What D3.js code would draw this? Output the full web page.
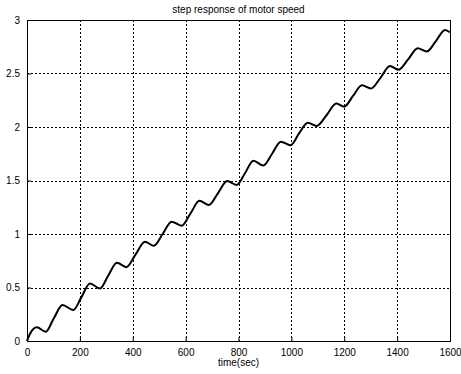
<!DOCTYPE html>
<html>
<head>
<meta charset="utf-8">
<script src="https://cdn.jsdelivr.net/npm/d3@7"></script>
<style>
  body { margin: 0; background: #fff; }
  text { font-family: "Liberation Sans", Arial, sans-serif; font-size: 10px; fill: #000; }
</style>
</head>
<body>
<svg width="461" height="374"></svg>
<script>
const svg = d3.select('svg');
const margin = {top: 20, bottom: 33, left: 27, right: 11};
const width  = +svg.attr('width');
const height = +svg.attr('height');

// Values
const times  = [0, 12, 37, 71, 101, 134, 175, 206, 238, 276, 307, 340, 376, 411, 446, 480,
  513, 547, 585, 618, 652, 688, 722, 757, 793, 825, 856, 894, 927, 960, 997, 1029, 1062,
  1096, 1133, 1170, 1200, 1233, 1267, 1301, 1337, 1373, 1405, 1441, 1478, 1512, 1546, 1581, 1600];
const speeds = [0, 0.07, 0.128, 0.087, 0.21, 0.336, 0.29, 0.41, 0.537, 0.49, 0.61, 0.732, 0.69,
  0.81, 0.928, 0.89, 1.0, 1.115, 1.078, 1.19, 1.31, 1.271, 1.38, 1.495, 1.458, 1.57, 1.685,
  1.64, 1.75, 1.863, 1.83, 1.94, 2.04, 2.01, 2.11, 2.22, 2.19, 2.29, 2.39, 2.36, 2.46, 2.57,
  2.535, 2.63, 2.735, 2.705, 2.8, 2.907, 2.885];
const xTicks = [0, 200, 400, 600, 800, 1000, 1200, 1400, 1600];
const yTicks = [0, 0.5, 1, 1.5, 2, 2.5, 3];

const innerWidth  = width - margin.left - margin.right;
const innerHeight = height - margin.top - margin.bottom;

const chart = svg.append('g')
  .attr('transform', `translate(${margin.left},${margin.top})`);

const xScale = d3.scaleLinear().domain([0, 1600]).range([0, innerWidth]);
const yScale = d3.scaleLinear().domain([0, 3]).range([innerHeight, 0]);

// grid
chart.append('g').selectAll('line').data(xTicks.slice(1, -1))
  .enter().append('line')
    .attr('x1', d => Math.round(xScale(d)) + 0.5).attr('x2', d => Math.round(xScale(d)) + 0.5)
    .attr('y1', 0).attr('y2', innerHeight)
    .attr('stroke', '#000').attr('stroke-dasharray', '2,2');
chart.append('g').selectAll('line').data(yTicks.slice(1, -1))
  .enter().append('line')
    .attr('y1', d => Math.round(yScale(d)) + 0.5).attr('y2', d => Math.round(yScale(d)) + 0.5)
    .attr('x1', 0).attr('x2', innerWidth)
    .attr('stroke', '#000').attr('stroke-dasharray', '2,2');

// axes (MATLAB style, inward ticks)
const xAxis = d3.axisBottom(xScale).tickValues(xTicks).tickSize(-4).tickPadding(8)
  .tickFormat(d3.format('d'));
const yAxis = d3.axisLeft(yScale).tickValues(yTicks).tickSize(-4).tickPadding(7)
  .tickFormat(d3.format('~g'));

const xAxisG = chart.append('g').attr('transform', `translate(0,${innerHeight})`).call(xAxis);
const yAxisG = chart.append('g').call(yAxis);
[xAxisG, yAxisG].forEach(g => {
  g.select('.domain').remove();
  g.selectAll('text').style('font-family', '"Liberation Sans", Arial, sans-serif').style('font-size', '10px');
});

// box
chart.append('rect')
  .attr('x', 0.5).attr('y', 0.5)
  .attr('width', innerWidth).attr('height', innerHeight)
  .attr('fill', 'none').attr('stroke', '#000');

// curve
const line = d3.line()
  .x((d, i) => xScale(times[i]))
  .y(d => yScale(d))
  .curve(d3.curveMonotoneX);

chart.append('path')
  .datum(speeds)
  .attr('d', line)
  .attr('fill', 'none')
  .attr('stroke', '#000')
  .attr('stroke-width', 2);

// labels
svg.append('text')
  .attr('x', margin.left + innerWidth / 2).attr('y', 13)
  .attr('text-anchor', 'middle')
  .text('step response of motor speed');

svg.append('text')
  .attr('x', margin.left + innerWidth / 2).attr('y', 366)
  .attr('text-anchor', 'middle')
  .text('time(sec)');
</script>
</body>
</html>
